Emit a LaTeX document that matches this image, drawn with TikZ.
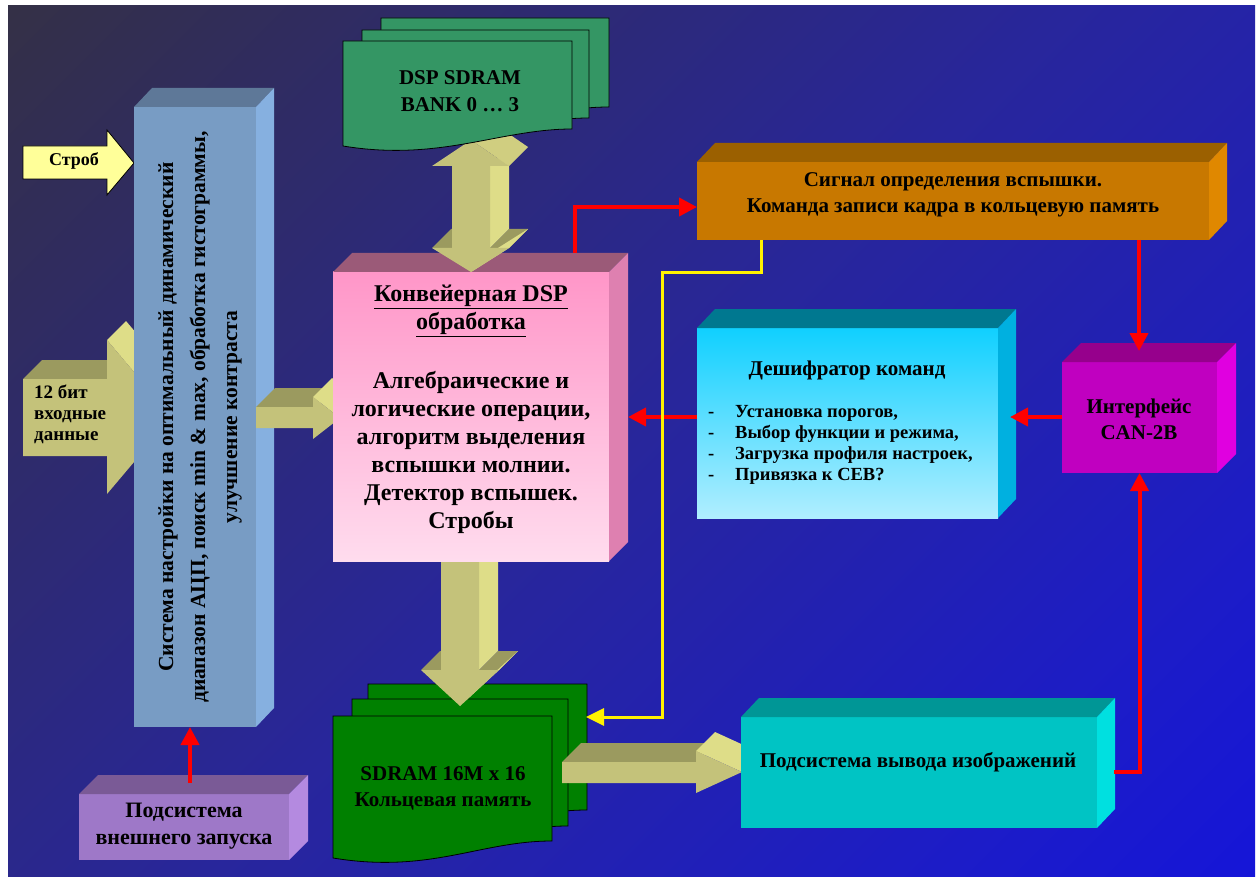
\documentclass[tikz,border=0pt]{standalone}
\usepackage{fontspec}
\setmainfont{Liberation Serif}
\usetikzlibrary{calc,arrows.meta}
\definecolor{bgA}{RGB}{58,54,36}
\definecolor{bgB}{RGB}{48,44,95}
\definecolor{bgC}{RGB}{40,38,155}
\definecolor{bgD}{RGB}{28,28,200}
\definecolor{bgE}{RGB}{12,12,238}
\definecolor{strobY}{RGB}{255,255,153}
\definecolor{oliveF}{RGB}{196,194,122}
\definecolor{oliveD}{RGB}{155,154,95}
\definecolor{oliveL}{RGB}{222,221,136}
\definecolor{oliveM}{RGB}{208,206,128}
\definecolor{blueF}{RGB}{120,156,196}
\definecolor{blueT}{RGB}{94,120,152}
\definecolor{blueS}{RGB}{134,176,224}
\definecolor{pinkA}{RGB}{255,150,200}
\definecolor{pinkB}{RGB}{255,220,238}
\definecolor{pinkT}{RGB}{155,90,120}
\definecolor{pinkS}{RGB}{222,128,176}
\definecolor{orF}{RGB}{200,120,0}
\definecolor{orT}{RGB}{155,96,0}
\definecolor{orS}{RGB}{224,136,0}
\definecolor{decA}{RGB}{16,208,255}
\definecolor{decB}{RGB}{176,238,255}
\definecolor{decT}{RGB}{0,120,144}
\definecolor{decS}{RGB}{0,176,224}
\definecolor{canF}{RGB}{192,0,192}
\definecolor{canT}{RGB}{150,0,140}
\definecolor{canS}{RGB}{224,0,224}
\definecolor{cyF}{RGB}{0,196,196}
\definecolor{cyT}{RGB}{0,150,150}
\definecolor{cyS}{RGB}{0,224,224}
\definecolor{puF}{RGB}{158,120,200}
\definecolor{puT}{RGB}{122,90,150}
\definecolor{puS}{RGB}{180,138,224}
\definecolor{dspG}{RGB}{52,150,100}
\definecolor{sdG}{RGB}{0,128,0}
\pgfdeclarehorizontalshading{bgshade}{100bp}{color(0bp)=(bgA); color(25bp)=(bgB); color(50bp)=(bgC); color(75bp)=(bgD); color(100bp)=(bgE)}
\newcommand\setfs[2]{\fontsize{#1}{#2}\selectfont}
\newcommand\cubefaces[5]{%
  \fill[#4] (#1.north west) -- ++(#2,-#3) -- ($(#1.north east)+(#2,-#3)$) -- (#1.north east) -- cycle;
  \fill[#5] (#1.north east) -- ++(#2,-#3) -- ($(#1.south east)+(#2,-#3)$) -- (#1.south east) -- cycle;}
\newcommand\docpage[5]{%
  \filldraw[docpg,fill=#5] (#1,#2) -- (#3,#2) -- (#3,#4) .. controls ($(#3,#4)+(-72,0)$) and ($(#1,#4)+(97,33)$) .. ($(#1,#4)+(0,17)$) -- cycle;}
\begin{document}
\begin{tikzpicture}[x=1pt,y=-1pt,
  front/.style={inner sep=0pt,outer sep=0pt,draw=none},
  lbl/.style={align=center,text=black,inner sep=0pt},
  redarrow/.style={draw=red,line width=4pt,-{Triangle[length=18pt,width=18pt]}},
  yelarrow/.style={draw=yellow,line width=3pt,-{Triangle[length=18pt,width=17pt]}},
  docpg/.style={draw=black,line width=0.8pt}]
\useasboundingbox (0,0) rectangle (1258,877);
\fill[white] (0,0) rectangle (1258,877);
\fill[shading=bgshade,shading angle=-45] (8,6) rectangle (1255,877);

% Strob arrow
\filldraw[fill=strobY,draw=black,line width=0.8pt] (23,146) -- (107,146) -- (107,130) -- (134,163) -- (107,195) -- (107,179) -- (23,179) -- cycle;
\node[lbl,font=\bfseries\setfs{18}{20}] (strob) at (74,161) {Строб};

% 12 bit arrow
\fill[oliveD] (23,379) -- (42,360) -- (126,360) -- (107,379) -- cycle;
\fill[oliveL] (107,340) -- (126,321) -- (191,398) -- (172,417) -- cycle;
\fill[oliveF] (23,379) -- (107,379) -- (107,340) -- (172,417) -- (107,494) -- (107,456) -- (23,456) -- cycle;
\node[lbl,align=left,anchor=west,font=\bfseries\setfs{19}{21}] (bits) at (34,414) {12 бит\\входные\\данные};

% blue tall box
\node[front,fill=blueF,minimum width=122pt,minimum height=620pt] (blue) at (195,417) {};
\cubefaces{blue}{18}{19}{blueT}{blueS}
\node[lbl,rotate=90,font=\bfseries\setfs{21.5}{32}] (bluetext) at (200,417) {Система настройки на оптимальный динамический\\диапазон АЦП, поиск min \& max, обработка гистограммы,\\улучшение контраста};

% arrow blue -> pink
\fill[oliveD] (256,407) -- (275,388) -- (332,388) -- (313,407) -- cycle;
\fill[oliveL] (313,397) -- (332,378) -- (359,399) -- (340,418) -- cycle;
\fill[oliveF] (256,407) -- (313,407) -- (313,397) -- (340,418) -- (313,439) -- (313,428) -- (256,428) -- cycle;

% SDRAM ring memory pages
\docpage{368}{684}{587}{810}{sdG}
\docpage{352}{699}{568}{826}{sdG}
\docpage{333}{716}{552}{841}{sdG}
\node[lbl,font=\bfseries\setfs{21}{26}] (sdtext) at (443,788) {SDRAM 16M x 16\\Кольцевая память};

% arrow pink -> SDRAM
\fill[oliveL] (479,561) -- (498,542) -- (498,651) -- (479,670) -- cycle;
\fill[oliveD] (421,670) -- (440,651) -- (460,651) -- (441,670) -- cycle;
\fill[oliveD] (479,670) -- (498,651) -- (518,651) -- (499,670) -- cycle;
\fill[oliveL] (499,670) -- (518,651) -- (479,687) -- (460,706) -- cycle;
\fill[oliveF] (441,561) -- (479,561) -- (479,670) -- (499,670) -- (460,706) -- (421,670) -- (441,670) -- cycle;

% pink DSP box
\node[front,top color=pinkA,bottom color=pinkB,minimum width=276pt,minimum height=289pt] (pink) at (471,416.5) {};
\cubefaces{pink}{19}{19}{pinkT}{pinkS}
\node[lbl,font=\bfseries\setfs{24}{28}] (pinktext) at (471,409) {\underline{Конвейерная DSP}\\\underline{обработка}\\[31pt]Алгебраические и\\логические операции,\\алгоритм выделения\\вспышки молнии.\\Детектор вспышек.\\Стробы};

% double arrow DSP SDRAM <-> pink
\fill[oliveL] (490,166) -- (509,147) -- (509,229) -- (490,248) -- cycle;
\fill[oliveD] (432,248) -- (451,229) -- (471,229) -- (452,248) -- cycle;
\fill[oliveD] (490,248) -- (509,229) -- (528,229) -- (509,248) -- cycle;
\fill[oliveL] (509,248) -- (528,229) -- (490,253) -- (471,272) -- cycle;
\fill[oliveM] (509,166) -- (528,147) -- (490,121) -- (471,140) -- cycle;
\fill[oliveF] (471,140) -- (509,166) -- (490,166) -- (490,248) -- (509,248) -- (471,272) -- (432,248) -- (452,248) -- (452,166) -- (432,166) -- cycle;

% DSP SDRAM pages
\docpage{381}{18}{609}{107}{dspG}
\docpage{362}{30}{589}{118}{dspG}
\docpage{343}{41}{572}{129}{dspG}
\node[lbl,font=\bfseries\setfs{21}{27}] (dsptext) at (460,91) {DSP SDRAM\\BANK 0 … 3};

% arrow SDRAM -> output
\fill[oliveD] (562,762) -- (581,743) -- (715,743) -- (696,762) -- cycle;
\fill[oliveL] (696,751) -- (715,732) -- (761,753) -- (742,772) -- cycle;
\fill[oliveF] (562,762) -- (696,762) -- (696,751) -- (742,772) -- (696,793) -- (696,783) -- (562,783) -- cycle;

% output subsystem
\node[front,fill=cyF,minimum width=356pt,minimum height=111pt] (cyan) at (919,772.5) {};
\cubefaces{cyan}{18}{19}{cyT}{cyS}
\node[lbl,font=\bfseries\setfs{21}{26}] (cyantext) at (918,762) {Подсистема вывода изображений};

% orange box
\node[front,fill=orF,minimum width=512pt,minimum height=78pt] (orange) at (953,201) {};
\cubefaces{orange}{18}{19}{orT}{orS}
\node[lbl,font=\bfseries\setfs{21}{26}] (orangetext) at (953,195) {Сигнал определения вспышки.\\Команда записи кадра в кольцевую память};

% decoder box
\node[front,top color=decA,bottom color=decB,minimum width=301pt,minimum height=190pt] (dec) at (847.5,423) {};
\cubefaces{dec}{18}{19}{decT}{decS}
\node[lbl,font=\bfseries\setfs{21}{26}] (dectitle) at (847,370) {Дешифратор команд};
\node[lbl,align=left,anchor=west,font=\bfseries\setfs{18.5}{21}] (declist) at (708,445) {\makebox[27pt][l]{-}Установка порогов,\\\makebox[27pt][l]{-}Выбор функции и режима,\\\makebox[27pt][l]{-}Загрузка профиля настроек,\\\makebox[27pt][l]{-}Привязка к СЕВ?};

% CAN box
\node[front,fill=canF,minimum width=155pt,minimum height=111pt] (can) at (1139.5,417.5) {};
\cubefaces{can}{19}{19}{canT}{canS}
\node[lbl,font=\bfseries\setfs{21}{26}] (cantext) at (1139,419) {Интерфейс\\CAN-2B};

% external trigger subsystem
\node[front,fill=puF,minimum width=210pt,minimum height=66pt] (purple) at (184,827) {};
\cubefaces{purple}{19}{19}{puT}{puS}
\node[lbl,font=\bfseries\setfs{22}{27}] (purpletext) at (184,826) {Подсистема\\внешнего запуска};

% connectors
\coordinate (pinkTop) at (575,253);
\coordinate (orOutR) at (1139,240);
\coordinate (canIn) at (1139,351);
\coordinate (decIn) at (1010,417);
\coordinate (pinkIn) at (628,417);
\coordinate (cyOut) at (1114,772);
\coordinate (puTop) at (190,783);
\coordinate (orOutY) at (761,240);
\coordinate (sdIn) at (586,717);
\draw[redarrow] (pinkTop) |- ([yshift=-6pt]orange.west);
\draw[redarrow] (orOutR) -- (canIn);
\draw[redarrow] ([yshift=0.5pt]can.west) -- (decIn);
\draw[redarrow] ([yshift=6pt]dec.west) -- (pinkIn);
\draw[redarrow] (cyOut) -| (can.south);
\draw[redarrow] (puTop) -- (blue.south -| puTop);
\draw[yelarrow] (orOutY) -- (761,273) -- (662,273) -- (662,717) -- (sdIn);
\end{tikzpicture}
\end{document}
